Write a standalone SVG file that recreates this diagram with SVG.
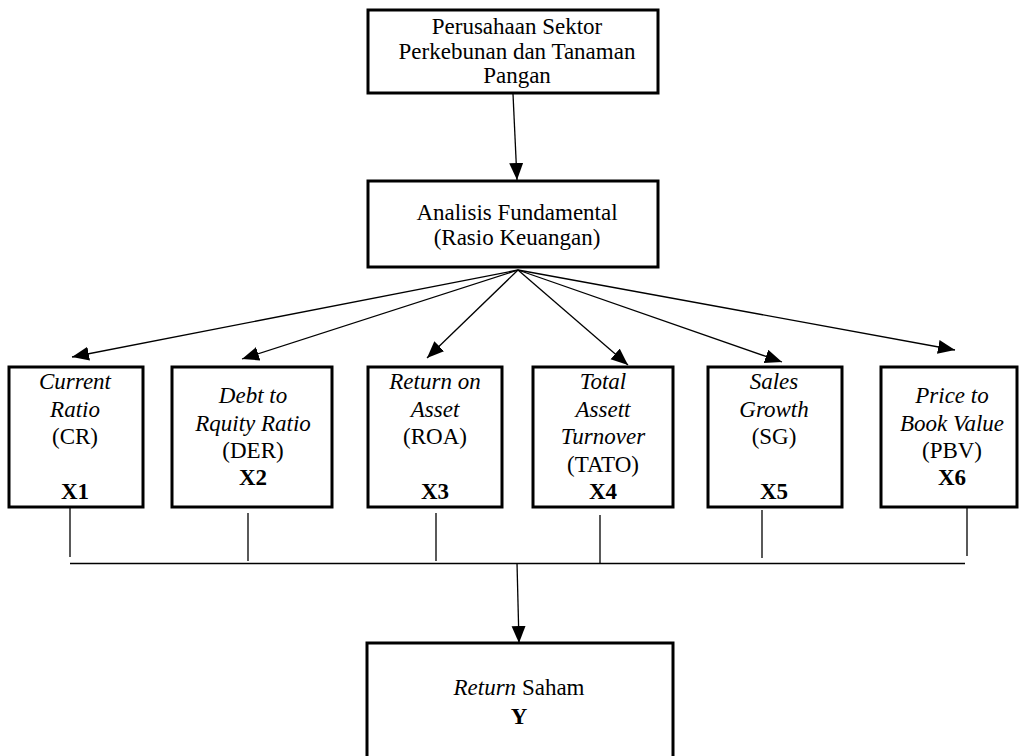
<svg xmlns="http://www.w3.org/2000/svg" width="1020" height="756" viewBox="0 0 1020 756" font-family="Liberation Serif, serif">
<style>
.box{fill:#fff;stroke:#000;stroke-width:3}
.t{font-family:'Liberation Serif',serif;font-size:23px;fill:#000;text-anchor:middle}
.i{font-style:italic}
.b{font-weight:bold}
.ln{stroke:#000;stroke-width:1.3;fill:none}
.ar{stroke:#000;stroke-width:1.3;fill:none;marker-end:url(#ah)}
</style>
<defs>
<marker id="ah" markerUnits="userSpaceOnUse" markerWidth="20" markerHeight="15" refX="17" refY="7" orient="auto">
<path d="M0,0 L17,7 L0,14 z" fill="#000"/>
</marker>
</defs>
<rect width="1020" height="756" fill="#fff"/>
<g id="connectors">
<line class="ar" x1="513" y1="94" x2="517" y2="180"/>
<line class="ar" x1="518" y1="270" x2="72" y2="357"/>
<line class="ar" x1="518" y1="270" x2="242" y2="359"/>
<line class="ar" x1="518" y1="270" x2="427" y2="358"/>
<line class="ar" x1="518" y1="270" x2="628" y2="365"/>
<line class="ar" x1="518" y1="270" x2="782" y2="362"/>
<line class="ar" x1="518" y1="270" x2="955" y2="350"/>
<line class="ln" x1="70" y1="508" x2="70" y2="557"/>
<line class="ln" x1="248" y1="513" x2="248" y2="561"/>
<line class="ln" x1="436" y1="513" x2="436" y2="561"/>
<line class="ln" x1="600" y1="515" x2="600" y2="563"/>
<line class="ln" x1="762" y1="510" x2="762" y2="558"/>
<line class="ln" x1="967" y1="508" x2="967" y2="556"/>
<line class="ln" x1="70" y1="563.5" x2="965" y2="563.5"/>
<line class="ar" x1="517" y1="563" x2="519" y2="643"/>
</g>
<g id="perusahaan">
<rect class="box" x="368" y="10" width="290" height="83"/>
<text class="t" x="517" y="34">Perusahaan Sektor</text>
<text class="t" x="517" y="58.5">Perkebunan dan Tanaman</text>
<text class="t" x="517" y="83">Pangan</text>
</g>
<g id="analisis">
<rect class="box" x="368" y="181" width="290" height="86"/>
<text class="t" x="517" y="220">Analisis Fundamental</text>
<text class="t" x="517" y="245">(Rasio Keuangan)</text>
</g>
<g id="x1">
<rect class="box" x="9" y="367" width="134" height="140"/>
<text class="t i" x="75" y="389">Current</text>
<text class="t i" x="75" y="416.5">Ratio</text>
<text class="t" x="75" y="444">(CR)</text>
<text class="t b" x="75" y="499">X1</text>
</g>
<g id="x2">
<rect class="box" x="172" y="367" width="160" height="140"/>
<text class="t i" x="253" y="403">Debt to</text>
<text class="t i" x="253" y="430.5">Rquity Ratio</text>
<text class="t" x="253" y="458">(DER)</text>
<text class="t b" x="253" y="484.5">X2</text>
</g>
<g id="x3">
<rect class="box" x="368" y="367" width="134" height="140"/>
<text class="t i" x="435" y="389">Return on</text>
<text class="t i" x="435" y="416.5">Asset</text>
<text class="t" x="435" y="444">(ROA)</text>
<text class="t b" x="435" y="499">X3</text>
</g>
<g id="x4">
<rect class="box" x="533" y="367" width="140" height="140"/>
<text class="t i" x="603" y="389">Total</text>
<text class="t i" x="603" y="416.5">Assett</text>
<text class="t i" x="603" y="444">Turnover</text>
<text class="t" x="603" y="471.5">(TATO)</text>
<text class="t b" x="603" y="499">X4</text>
</g>
<g id="x5">
<rect class="box" x="708" y="367" width="134" height="140"/>
<text class="t i" x="774" y="389">Sales</text>
<text class="t i" x="774" y="416.5">Growth</text>
<text class="t" x="774" y="444">(SG)</text>
<text class="t b" x="774" y="499">X5</text>
</g>
<g id="x6">
<rect class="box" x="881" y="367" width="136" height="140"/>
<text class="t i" x="952" y="403">Price to</text>
<text class="t i" x="952" y="430.5">Book Value</text>
<text class="t" x="952" y="458">(PBV)</text>
<text class="t b" x="952" y="484.5">X6</text>
</g>
<g id="y">
<rect class="box" x="367" y="643" width="306" height="118"/>
<text class="t" x="519" y="695"><tspan class="i">Return</tspan> Saham</text>
<text class="t b" x="519" y="724">Y</text>
</g>
</svg>
